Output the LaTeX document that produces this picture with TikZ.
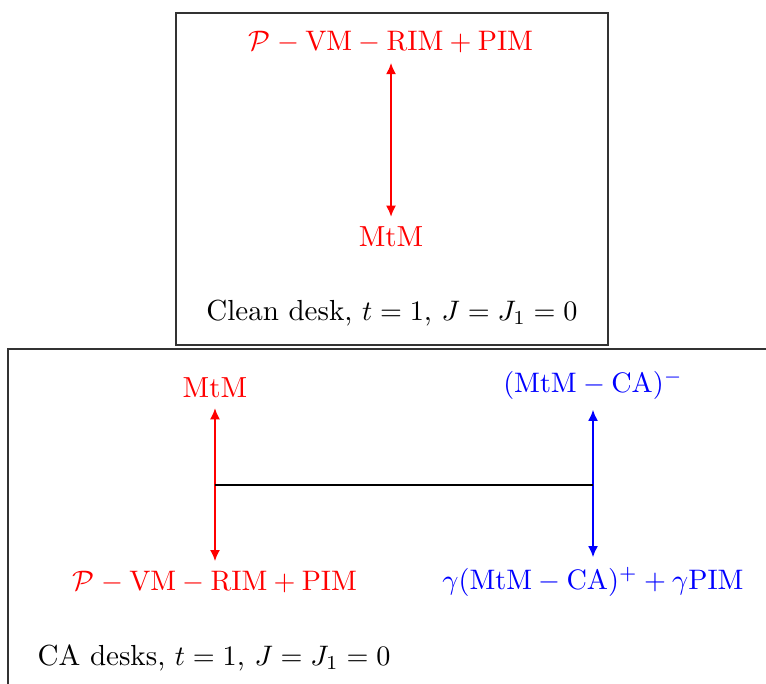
\documentclass[tikz,border=0pt]{standalone}
\usepackage{amsmath,amssymb}
\usepackage{tikz}
\usetikzlibrary{arrows.meta,positioning,calc}

\begin{document}
\begin{tikzpicture}[
    lab/.style={inner sep=3.33pt,font=\fontsize{10.3pt}{12.4pt}\selectfont},
    arr/.style={{Latex[length=4pt,width=3.6pt]}-{Latex[length=4pt,width=3.6pt]},thick},
    frame/.style={draw=black!80,line width=0.4pt}
  ]
    \clip (0,0) rectangle (9.552,-8.529);
    % clean desk
    \draw[frame] (2.195,-0.162) rectangle (7.582,-4.302);
    \node[lab,text=red] (pvT) at (4.876,-0.524) {$\mathcal{P}-\mathrm{VM}-\mathrm{RIM}+\mathrm{PIM}$};
    \node[lab,text=red] (mtmT) at (4.876,-2.955) {MtM};
    \node[lab] (clean) at (4.888,-3.903) {Clean desk, $t=1$, $J=J_1=0$};
    \draw[arr,red] (pvT) -- (mtmT);
    % CA desks
    \draw[frame] (0.100,-4.352) rectangle (10.5,-9.5);
    \node[lab,text=red] (mtmB) at (2.681,-4.838) {MtM};
    \node[lab,text=red] (pvB) at (2.681,-7.258) {$\mathcal{P}-\mathrm{VM}-\mathrm{RIM}+\mathrm{PIM}$};
    \node[lab,text=blue] (mcaB) at (7.395,-4.800) {$(\mathrm{MtM}-\mathrm{CA})^{-}$};
    \node[lab,text=blue] (gamB) at (7.395,-7.258) {$\gamma(\mathrm{MtM}-\mathrm{CA})^{+}+\gamma\mathrm{PIM}$};
    \node[lab] (ca) at (2.669,-8.205) {CA desks, $t=1$, $J=J_1=0$};
    \draw[arr,red] (mtmB) -- (pvB);
    \draw[arr,blue] (mcaB) -- (gamB);
    \coordinate (midL) at ($(mtmB.south)!0.5!(pvB.north)$);
    \draw[thick] (midL) -- (midL -| mcaB.south);
  \end{tikzpicture}
\end{document}
